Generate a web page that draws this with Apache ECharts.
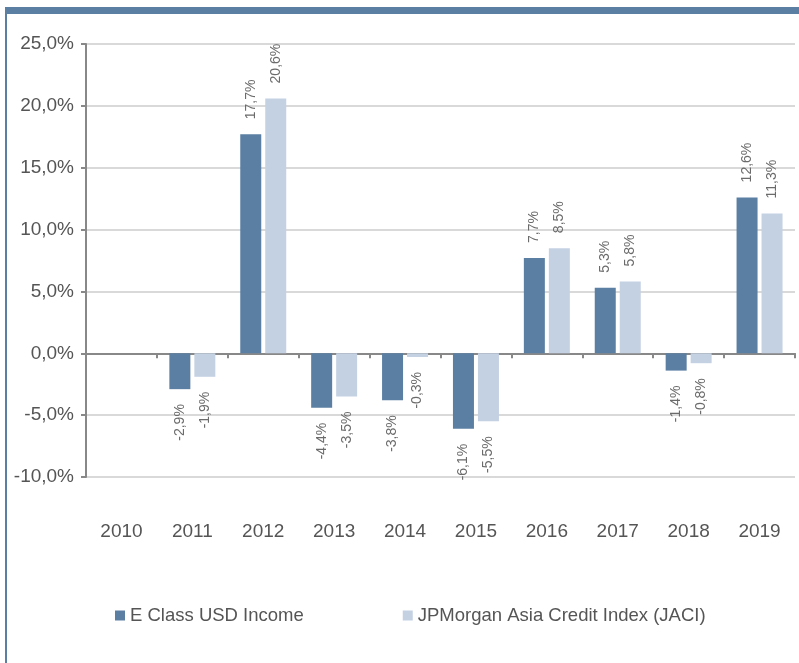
<!DOCTYPE html>
<html>
<head>
<meta charset="utf-8">
<script src="https://cdn.jsdelivr.net/npm/echarts@6/dist/echarts.min.js"></script>
<style>
  html, body { margin: 0; padding: 0; background: #fff; }
  #chart { width: 799px; height: 663px; }
</style>
</head>
<body>
<div id="chart"></div>
<script>
// données
const years = ['2010', '2011', '2012', '2013', '2014', '2015', '2016', '2017', '2018', '2019'];
const fundName = 'E Class USD Income';
const indexName = 'JPMorgan Asia Credit Index (JACI)';
const fundValues = [null, -2.9, 17.7, -4.4, -3.8, -6.1, 7.7, 5.3, -1.4, 12.6];
const indexValues = [null, -1.9, 20.6, -3.5, -0.3, -5.5, 8.5, 5.8, -0.8, 11.3];

const fmt = v => v.toFixed(1).replace('.', ',') + '%';

// étiquettes verticales : au-dessus si positif, en dessous si négatif
const withLabels = arr => arr.map(v => {
  if (v == null) return null;
  return {
    value: v,
    label: v >= 0
      ? { position: 'top', align: 'left' }
      : { position: 'bottom', align: 'right' }
  };
});

const labelStyle = {
  show: true,
  rotate: 90,
  verticalAlign: 'middle',
  distance: 15,
  color: '#6b6b6b',
  fontSize: 14,
  fontFamily: 'Liberation Sans, Arial, sans-serif',
  formatter: p => fmt(p.value)
};

const chart = echarts.init(document.getElementById('chart'));
chart.setOption({
  animation: false,
  textStyle: { fontFamily: 'Liberation Sans, Arial, sans-serif' },
  graphic: [
    { type: 'rect', shape: { x: 6, y: 7, width: 793, height: 7 }, style: { fill: '#5b7fa3' } },
    { type: 'rect', shape: { x: 5, y: 7, width: 2, height: 656 }, style: { fill: '#5b7fa3' } }
  ],
  legend: {
    left: 110,
    top: 601,
    icon: 'rect',
    itemWidth: 10,
    itemHeight: 10,
    itemGap: 99,
    textStyle: { color: '#555', fontSize: 18.5 },
    data: [fundName, indexName]
  },
  grid: { left: 86, right: 4, top: 44, bottom: 186 },
  xAxis: [
    {
      type: 'category',
      data: years,
      axisLine: { onZero: true, lineStyle: { color: '#888', width: 2 } },
      axisTick: { show: true, length: 5, lineStyle: { color: '#888', width: 2 } },
      axisLabel: { show: false }
    },
    {
      type: 'category',
      data: years,
      position: 'bottom',
      axisLine: { show: false },
      axisTick: { show: false },
      axisLabel: { color: '#555', fontSize: 19, margin: 45 }
    }
  ],
  yAxis: {
    type: 'value',
    min: -10,
    max: 25,
    interval: 5,
    axisLine: { show: true, lineStyle: { color: '#888', width: 2 } },
    axisTick: { show: true, length: 5, lineStyle: { color: '#888', width: 2 } },
    axisLabel: { color: '#555', fontSize: 19, margin: 12, formatter: v => fmt(v) },
    splitLine: { lineStyle: { color: '#d9d9d9', width: 2 } }
  },
  series: [
    {
      name: fundName,
      type: 'bar',
      xAxisIndex: 0,
      barWidth: 21,
      barGap: '19%',
      itemStyle: { color: '#5b7fa3' },
      label: labelStyle,
      data: withLabels(fundValues)
    },
    {
      name: indexName,
      type: 'bar',
      xAxisIndex: 0,
      barWidth: 21,
      itemStyle: { color: '#c4d1e3' },
      label: labelStyle,
      data: withLabels(indexValues)
    }
  ]
});
</script>
</body>
</html>
